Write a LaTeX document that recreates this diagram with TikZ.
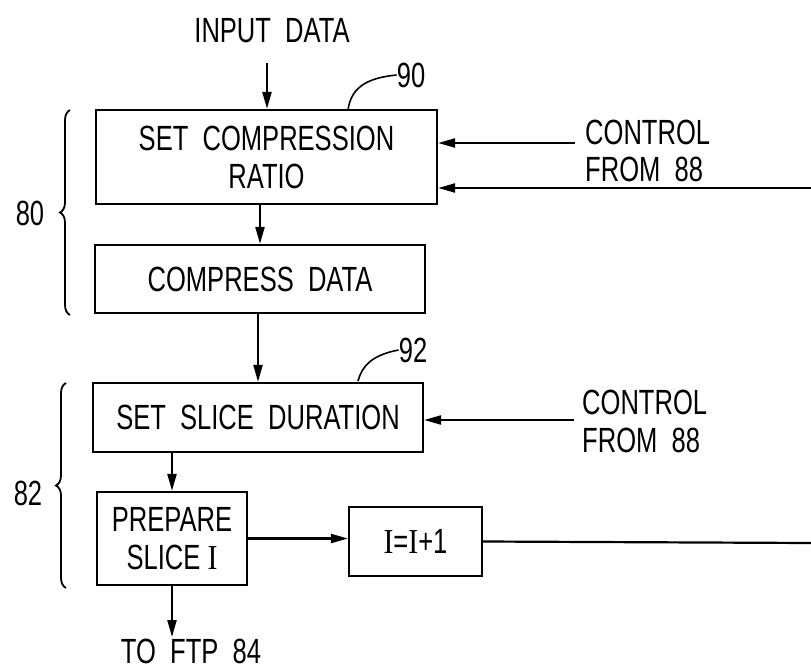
\documentclass[tikz,border=0pt]{standalone}
\usepackage{fontspec}
\setmainfont{Liberation Sans}[FakeStretch=0.73]
\newfontfamily\serifI{Liberation Serif}[FakeStretch=0.85]
\newcommand{\rI}{{\serifI I}}
\usetikzlibrary{arrows.meta,decorations.pathreplacing}
\tikzset{
  box/.style={draw,line width=2.2pt,inner sep=0pt,align=center},
  lbl/.style={inner sep=0pt,align=center},
  flow/.style={line width=2.2pt,-{Triangle[length=17pt,width=9pt]}},
  plain/.style={line width=2.2pt},
  lead/.style={line width=1.6pt},
  brc/.style={line width=1.8pt,decorate,decoration={brace,amplitude=10pt}},
}
\begin{document}
\begin{tikzpicture}[x=1pt,y=-1pt,font=\fontsize{35}{38}\selectfont]
\useasboundingbox (0,0) rectangle (811,671);
% boxes
\node[box,minimum width=341pt,minimum height=94pt] (b1) at (266.5,157) {SET~~COMPRESSION\\RATIO};
\node[box,minimum width=330pt,minimum height=68pt] (b2) at (260,279) {COMPRESS~~DATA};
\node[box,minimum width=330pt,minimum height=69pt] (b3) at (258,417.5) {SET~~SLICE~~DURATION};
\node[box,minimum width=150pt,minimum height=93pt] (b4) at (172,538.5) {PREPARE\\SLICE~\rI};
\node[box,minimum width=133pt,minimum height=69pt] (b5) at (415.5,541.5) {\rI{}=\rI{}+1};
% texts
\node[lbl] (inp) at (272,31) {INPUT~~DATA};
\node[lbl,anchor=west] (c1a) at (585,132) {CONTROL};
\node[lbl,anchor=west] (c1b) at (585,169) {FROM~~88};
\node[lbl,anchor=west] (c2a) at (582,402) {CONTROL};
\node[lbl,anchor=west] (c2b) at (582,440) {FROM~~88};
\node[lbl] (ftp) at (191,651) {TO~~FTP~~84};
\node[lbl] (n80) at (30,213) {80};
\node[lbl] (n82) at (28,493) {82};
\node[lbl] (n90) at (411,75) {90};
\node[lbl] (n92) at (413,350) {92};
% free ends
\coordinate (inTop) at (267,63);
\coordinate (c1end) at (575,143);
\coordinate (c1far) at (811,188);
\coordinate (c2end) at (574,420);
\coordinate (fbEnd) at (811,543);
\coordinate (ftpEnd) at (172,637);
% connectors
\draw[flow] (inTop) -- (inTop |- b1.north);
\draw[flow] (b2.north |- b1.south) -- (b2.north);
\draw[flow] (b2.south -| b3.north) -- (b3.north);
\draw[flow] (b3.south -| b4.north) -- (b4.north);
\draw[flow] (b4.east) -- (b4.east -| b5.west);
\draw[flow] (b4.south) -- (ftpEnd);
\draw[flow] (c1end) -- (c1end -| b1.east);
\draw[flow] (c1far) -- (c1far -| b1.east);
\draw[flow] (c2end) -- (c2end -| b3.east);
\draw[plain] (b5.east) -- (fbEnd);
% leaders
\draw[lead] (348,110) .. controls (351,88) and (366,78) .. (n90.west);
\draw[lead] (358,381) .. controls (362,366) and (372,355) .. (n92.west);
% braces
\draw[brc] (70,315) -- (70,110);
\draw[brc] (66,588) -- (66,383);
\end{tikzpicture}
\end{document}
